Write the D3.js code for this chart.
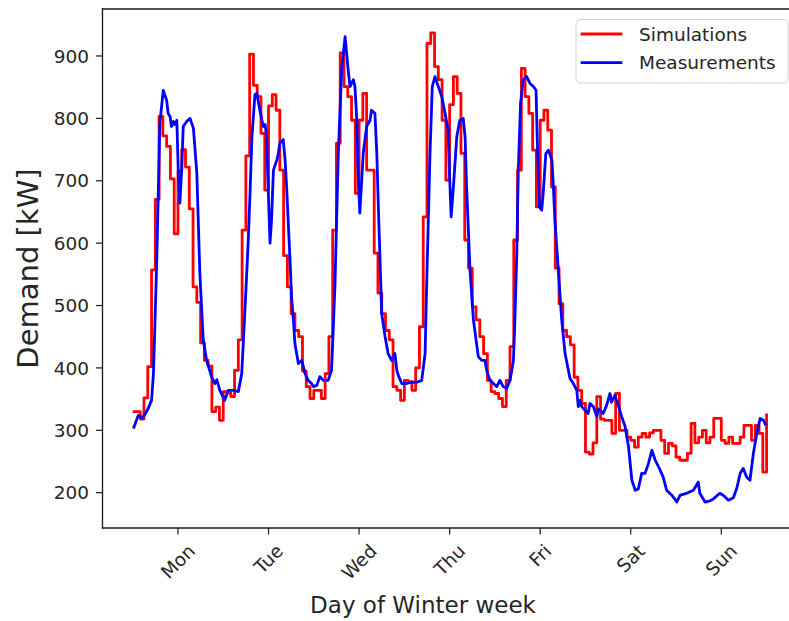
<!DOCTYPE html>
<html>
<head>
<meta charset="utf-8">
<script src="https://cdn.jsdelivr.net/npm/d3@7"></script>
<style>
  html, body { margin: 0; padding: 0; background: #fff; }
  svg { display: block; font-family: "DejaVu Sans", sans-serif; }
</style>
</head>
<body>
<svg id="chart" width="789" height="621"></svg>
<script>
// Simulated demand (kW), one value per hour from Monday 00:00 to Sunday 24:00
const simulations = [
  330, 330, 318, 352, 402, 557, 670, 803, 772, 755, 703, 615, 715, 750, 722, 655, 530, 505, 440, 412, 403, 330, 337, 316,
  362, 360, 354, 396, 445, 621, 740, 903, 853, 835, 776, 685, 820, 838, 813, 717, 580, 530, 487, 460, 450, 395, 370, 351,
  364, 364, 351, 391, 450, 621, 760, 905, 851, 835, 797, 680, 797, 840, 717, 717, 584, 520, 487, 460, 445, 370, 364, 348,
  380, 378, 364, 400, 466, 642, 920, 937, 883, 862, 797, 701, 822, 867, 840, 744, 605, 560, 498, 477, 450, 423, 380, 362,
  359, 351, 338, 380, 434, 605, 717, 880, 835, 808, 749, 658, 797, 813, 781, 690, 560, 503, 460, 450, 437, 385, 364, 343,
  265, 262, 280, 354, 318, 316, 316, 295, 359, 300, 300, 289, 284, 273, 289, 295, 289, 296, 300, 300, 284, 263, 279, 275,
  257, 252, 252, 263, 311, 280, 289, 300, 280, 289, 319, 319, 284, 279, 289, 279, 279, 289, 308, 308, 284, 308, 295, 233,
  327
];

// Measured demand: [hours since Monday 00:00, kW]
const measurements = [
  [0.2,303],[1.5,324],[2.5,320],[3.3,326],[4.1,335],[5.0,348],[5.5,391],[5.9,472],[6.4,578],[6.8,685],
  [7.2,792],[8.1,845],[9.0,829],[9.4,808],[9.9,803],[10.3,787],[10.8,795],[11.2,790],[11.7,797],[12.1,712],
  [12.5,664],[13.0,720],[13.4,787],[14.3,795],[15.2,800],[16.1,784],[17.0,712],[17.4,632],[17.8,552],[18.7,445],
  [19.6,412],[20.9,386],[21.8,375],[22.3,381],[23.1,364],[24.4,348],[25.3,364],[26.7,364],[28.0,362],[28.9,391],
  [29.8,498],[30.6,600],[31.1,680],[31.6,770],[32.4,838],[32.9,840],[33.7,813],[34.6,787],[35.1,790],[35.5,770],
  [35.9,690],[36.4,600],[36.8,637],[37.3,717],[38.2,733],[38.6,744],[39.0,760],[39.9,766],[40.4,733],[40.8,690],
  [41.2,637],[41.7,573],[42.1,514],[42.6,477],[43.0,439],[43.9,407],[44.8,412],[45.7,391],[46.5,380],[47.4,375],
  [47.9,370],[48.8,372],[49.6,386],[50.5,380],[51.8,380],[52.7,396],[53.6,530],[54.5,744],[55.4,880],[56.3,931],
  [57.1,878],[57.6,851],[58.5,862],[58.9,851],[59.4,797],[59.8,701],[60.2,648],[61.1,744],[62.0,787],[62.9,797],
  [63.3,813],[64.2,808],[64.7,744],[65.1,660],[66.0,487],[66.9,450],[67.7,423],[68.6,412],[69.5,423],[70.0,396],
  [70.4,388],[71.3,375],[72.6,375],[73.9,377],[75.3,377],[76.6,380],[77.5,423],[77.9,530],[78.8,744],[79.4,851],
  [80.1,867],[81.0,851],[81.9,835],[82.8,808],[83.6,781],[84.1,690],[84.4,642],[85.0,690],[85.9,771],[86.7,797],
  [87.6,800],[88.1,770],[88.5,690],[89.4,557],[90.3,477],[91.6,418],[92.5,412],[93.4,412],[93.8,396],[94.7,380],
  [95.6,375],[96.5,370],[97.3,380],[98.2,370],[99.1,367],[100.0,380],[100.9,412],[101.3,477],[101.8,584],[102.2,717],
  [102.8,824],[103.5,862],[104.4,867],[105.3,856],[106.2,851],[106.9,845],[107.2,771],[107.8,658],[108.4,653],[108.8,680],
  [109.5,744],[110.2,749],[111.1,733],[111.5,690],[111.9,637],[112.8,557],[113.7,477],[114.6,423],[115.9,383],[116.8,375],
  [117.7,364],[118.1,338],[118.5,348],[119.0,338],[119.9,332],[120.7,327],[121.2,343],[122.1,338],[123.0,322],[123.4,334],
  [123.9,332],[124.7,327],[125.6,340],[126.5,359],[126.9,345],[127.8,356],[128.7,340],[129.6,322],[130.5,306],[131.4,274],
  [132.3,220],[133.2,204],[134.0,206],[134.9,231],[135.8,231],[136.7,247],[137.6,268],[138.5,252],[139.8,236],[140.6,225],
  [141.5,204],[142.9,196],[144.2,185],[145.1,196],[146.8,199],[148.6,204],[149.9,217],[150.3,199],[151.7,185],[153.0,187],
  [153.9,190],[155.6,199],[156.5,196],[157.9,188],[159.2,192],[160.1,207],[161.0,231],[161.8,239],[162.7,225],[163.6,220],
  [164.5,263],[165.4,295],[166.3,319],[167.2,316],[167.8,308]
];

const dayLabels = ["Mon", "Tue", "Wed", "Thu", "Fri", "Sat", "Sun"];
const dayTickHours = [12, 36, 60, 84, 108, 132, 156];
const demandTicks = [200, 300, 400, 500, 600, 700, 800, 900];
const seriesNames = ["Simulations", "Measurements"];
const seriesColors = ["#ff0000", "#0000ff"];

const svg = d3.select("#chart");
const frame = { left: 102.5, right: 797.9, top: 9, bottom: 528 };
const textColor = "#262626";
const tickFont = 18.5;
const seriesWidth = 2.8;

const x = d3.scaleLinear().domain([-8, 176.3]).range([frame.left, frame.right]);
const y = d3.scaleLinear().domain([143.4, 975.3]).range([frame.bottom, frame.top]);

// series
const simLine = d3.line()
  .x((d, i) => x(i))
  .y(d => y(d))
  .curve(d3.curveStepAfter);

const measLine = d3.line()
  .x(d => x(d[0]))
  .y(d => y(d[1]));

svg.append("path")
  .datum(simulations)
  .attr("d", simLine)
  .attr("fill", "none")
  .attr("stroke", seriesColors[0])
  .attr("stroke-width", seriesWidth)
  .attr("stroke-linejoin", "round");

svg.append("path")
  .datum(measurements)
  .attr("d", measLine)
  .attr("fill", "none")
  .attr("stroke", seriesColors[1])
  .attr("stroke-width", seriesWidth)
  .attr("stroke-linejoin", "round");

// frame
const spine = { stroke: "#1a1a1a", width: 1.3 };
[[frame.left, frame.top, frame.left, frame.bottom],
 [frame.left, frame.top, frame.right, frame.top],
 [frame.left, frame.bottom, frame.right, frame.bottom],
 [frame.right, frame.top, frame.right, frame.bottom]].forEach(([x1, y1, x2, y2]) => {
  svg.append("line")
    .attr("x1", x1).attr("y1", y1).attr("x2", x2).attr("y2", y2)
    .attr("stroke", spine.stroke).attr("stroke-width", spine.width)
    .attr("stroke-linecap", "square");
});

// y axis
const yAxis = svg.append("g");
demandTicks.forEach(v => {
  yAxis.append("line")
    .attr("x1", frame.left - 6.5).attr("x2", frame.left)
    .attr("y1", y(v)).attr("y2", y(v))
    .attr("stroke", spine.stroke).attr("stroke-width", 1.2);
  yAxis.append("text")
    .attr("x", frame.left - 13.5)
    .attr("y", y(v))
    .attr("dy", "0.36em")
    .attr("text-anchor", "end")
    .attr("font-size", tickFont)
    .attr("fill", textColor)
    .text(v);
});

// x axis with rotated day labels
const xAxis = svg.append("g");
dayTickHours.forEach((h, i) => {
  const px = x(h);
  xAxis.append("line")
    .attr("x1", px).attr("x2", px)
    .attr("y1", frame.bottom).attr("y2", frame.bottom + 6.5)
    .attr("stroke", spine.stroke).attr("stroke-width", 1.2);
  const t = xAxis.append("text")
    .attr("text-anchor", "middle")
    .attr("dominant-baseline", "central")
    .attr("font-size", tickFont)
    .attr("fill", textColor)
    .text(dayLabels[i]);
  const w = t.node().getComputedTextLength();
  const hgt = tickFont * 1.1;
  const half = (w + hgt) / (2 * Math.SQRT2);
  t.attr("transform", `translate(${px},${frame.bottom + 12.5 + half}) rotate(-45)`);
});

// axis titles
svg.append("text")
  .attr("x", 423)
  .attr("y", 613)
  .attr("text-anchor", "middle")
  .attr("font-size", 23)
  .attr("fill", textColor)
  .text("Day of Winter week");

svg.append("text")
  .attr("transform", `translate(37.5,${(frame.top + frame.bottom) / 2}) rotate(-90)`)
  .attr("text-anchor", "middle")
  .attr("font-size", 29)
  .attr("fill", textColor)
  .text("Demand [kW]");

// legend
const legend = svg.append("g");
legend.append("rect")
  .attr("x", 576).attr("y", 19.5)
  .attr("width", 212).attr("height", 63.5)
  .attr("rx", 4)
  .attr("fill", "#fff").attr("fill-opacity", 0.8)
  .attr("stroke", "#d4d4d4").attr("stroke-width", 1);
seriesNames.forEach((name, i) => {
  const ly = 34 + i * 28.7;
  legend.append("line")
    .attr("x1", 580.7).attr("x2", 622.3)
    .attr("y1", ly).attr("y2", ly)
    .attr("stroke", seriesColors[i]).attr("stroke-width", seriesWidth);
  legend.append("text")
    .attr("x", 639).attr("y", ly)
    .attr("dy", "0.36em")
    .attr("font-size", tickFont)
    .attr("fill", textColor)
    .text(name);
});
</script>
</body>
</html>
